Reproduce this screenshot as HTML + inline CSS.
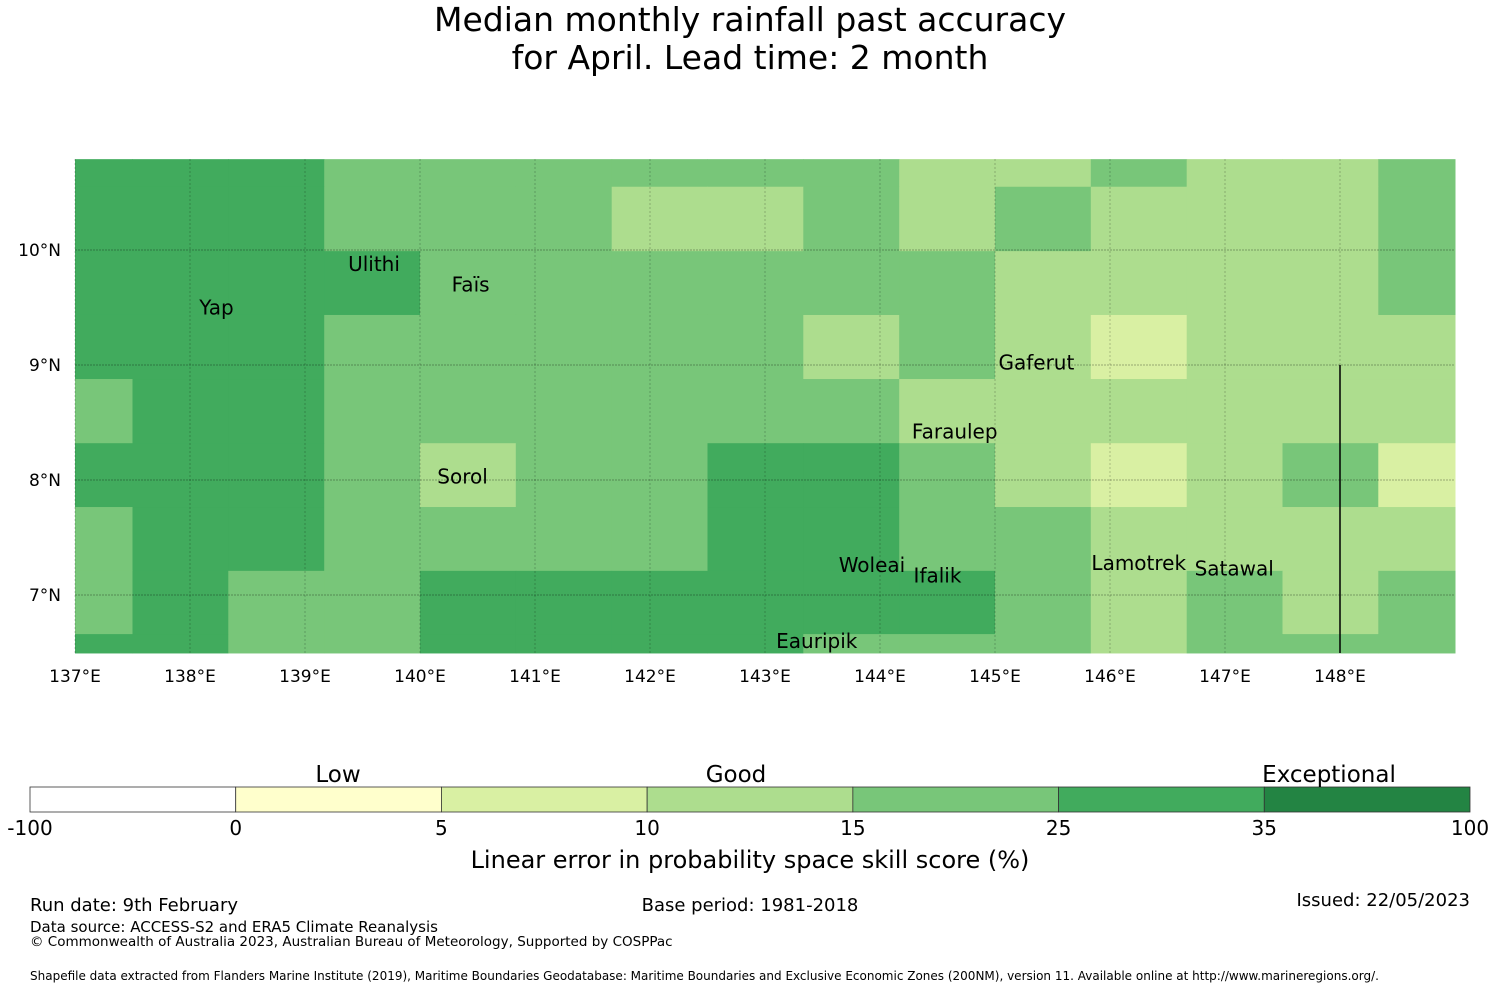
<!DOCTYPE html>
<html><head><meta charset="utf-8"><style>
body{margin:0;background:#fff;font-family:"Liberation Sans","DejaVu Sans",sans-serif}
svg text{font-family:"DejaVu Sans","Liberation Sans",sans-serif}
</style></head><body>
<svg id="c" width="1500" height="990" xmlns="http://www.w3.org/2000/svg">
<text x="750" y="31" font-size="33" text-anchor="middle">Median monthly rainfall past accuracy</text>
<text x="750" y="69" font-size="33" text-anchor="middle">for April. Lead time: 2 month</text>
<g id="cells"></g><g id="grid"></g><g id="labels"></g><g id="cbar"></g>
<text x="750" y="868" font-size="24" text-anchor="middle">Linear error in probability space skill score (%)</text>
<text x="30" y="911" font-size="18">Run date: 9th February</text>
<text x="750" y="911" font-size="18" text-anchor="middle">Base period: 1981-2018</text>
<text x="1470" y="906" font-size="18" text-anchor="end">Issued: 22/05/2023</text>
<text x="30" y="932" font-size="15">Data source: ACCESS-S2 and ERA5 Climate Reanalysis</text>
<text x="30" y="946" font-size="13.5">© Commonwealth of Australia 2023, Australian Bureau of Meteorology, Supported by COSPPac</text>
<text x="30" y="980" font-size="12">Shapefile data extracted from Flanders Marine Institute (2019), Maritime Boundaries Geodatabase: Maritime Boundaries and Exclusive Economic Zones (200NM), version 11. Available online at http://www.marineregions.org/.</text>
</svg>
<script>
const lonEdges=[137,137.5,138.333,139.167,140,140.833,141.667,142.5,143.333,144.167,145,145.833,146.667,147.5,148.333,149];
const latEdges=[10.79,10.55,9.99,9.435,8.878,8.32,7.765,7.21,6.66,6.496];
const cellValues=[
[30,30,30,20,20,20,20,20,20,12,12,20,12,12,20],
[30,30,30,20,20,20,12,12,20,12,20,12,12,12,20],
[30,30,30,30,20,20,20,20,20,20,12,12,12,12,20],
[30,30,30,20,20,20,20,20,12,20,12,7,12,12,12],
[20,30,30,20,20,20,20,20,20,12,12,12,12,12,12],
[30,30,30,20,12,20,20,30,30,20,12,7,12,20,7],
[20,30,30,20,20,20,20,30,30,20,20,12,12,12,12],
[20,30,20,20,30,30,30,30,30,30,20,12,20,12,20],
[30,30,20,20,30,30,30,30,20,20,20,12,20,20,20]];
const bounds=[-100,0,5,10,15,25,35,100];
const colors=["#ffffff","#ffffcc","#d9f0a3","#addd8e","#78c679","#41ab5d","#238443"];
const lonTicks=[137,138,139,140,141,142,143,144,145,146,147,148];
const latTicks=[10,9,8,7];
const places=[["Yap",138.23,9.5],["Ulithi",139.6,9.88],["Faïs",140.44,9.7],["Gaferut",145.36,9.02],["Faraulep",144.65,8.42],["Sorol",140.37,8.03],["Woleai",143.93,7.26],["Ifalik",144.5,7.17],["Lamotrek",146.25,7.28],["Satawal",147.08,7.23],["Eauripik",143.45,6.6]];
const NS="http://www.w3.org/2000/svg";
const X=l=>75+(l-137)*115, Y=a=>250+(10-a)*115;
function colorOf(v){for(let i=0;i<colors.length;i++){if(v<bounds[i+1])return colors[i];}return colors[colors.length-1];}
function mk(t,a,p){const e=document.createElementNS(NS,t);for(const k in a)e.setAttribute(k,a[k]);document.getElementById(p).appendChild(e);return e;}
cellValues.forEach((row,r)=>row.forEach((v,c)=>{
 const e=mk('rect',{x:X(lonEdges[c]),y:Y(latEdges[r]),width:X(lonEdges[c+1])-X(lonEdges[c])+0.5,height:Y(latEdges[r+1])-Y(latEdges[r])+0.5,fill:colorOf(v)},'cells');
 
 
}));
lonTicks.forEach(l=>{
 const g=mk('line',{x1:X(l),x2:X(l),y1:159,y2:653,stroke:'#000','stroke-opacity':0.22,'stroke-dasharray':'2,2','stroke-width':1},'grid');
 
 
 const t=mk('text',{x:X(l),y:682,'font-size':17,'text-anchor':'middle'},'grid');t.textContent=l+'°E';
 
 
});
latTicks.forEach(a=>{
 const g=mk('line',{x1:75,x2:1455,y1:Y(a),y2:Y(a),stroke:'#000','stroke-opacity':0.3,'stroke-dasharray':'2,1','stroke-width':1},'grid');
 
 
 const t=mk('text',{x:61,y:Y(a)+6,'font-size':17,'text-anchor':'end'},'grid');t.textContent=a+'°N';
 
 
});
const bl=mk('line',{x1:X(148),x2:X(148),y1:Y(9),y2:653,stroke:'#000','stroke-width':1.5},'grid');


places.forEach(p=>{
 const t=mk('text',{x:X(p[1]),y:Y(p[2])+7,'font-size':20,'text-anchor':'middle'},'labels');t.textContent=p[0];
 
 
});
const cw=1440/colors.length;
colors.forEach((c,i)=>{
 const r=mk('rect',{x:30+i*cw,y:787,width:cw,height:25,fill:c,stroke:'#333','stroke-width':0.8},'cbar');
 
 
});
bounds.forEach((b,i)=>{
 const t=mk('text',{x:30+i*cw,y:835,'font-size':20,'text-anchor':'middle'},'cbar');t.textContent=b;
 
 
});
[["Low",338],["Good",736],["Exceptional",1329]].forEach(p=>{
 const t=mk('text',{x:p[1],y:782,'font-size':23,'text-anchor':'middle'},'cbar');t.textContent=p[0];
 
 
});
</script>
</body></html>
